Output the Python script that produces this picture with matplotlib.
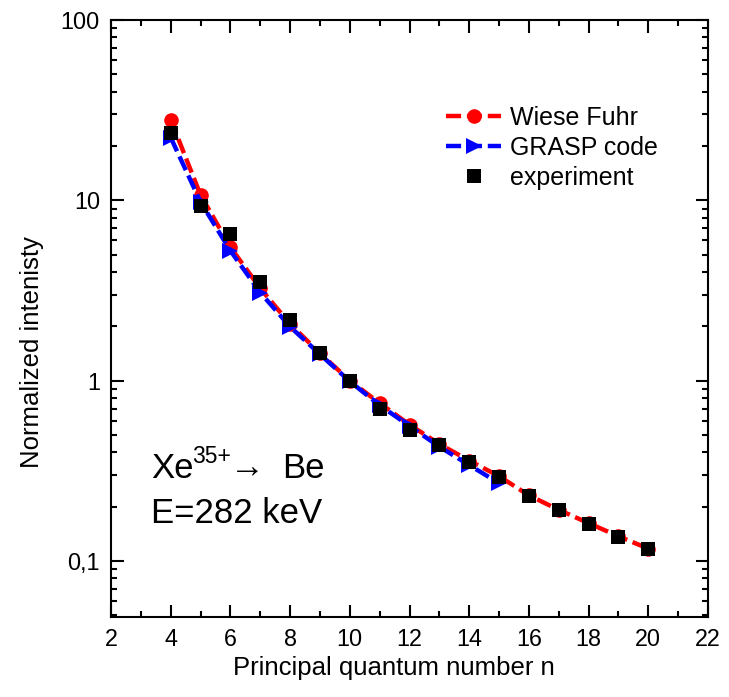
import matplotlib
matplotlib.use("Agg")
import matplotlib.pyplot as plt
from matplotlib.ticker import FixedLocator, FixedFormatter, MultipleLocator, LogLocator, NullFormatter

plt.rcParams['font.family'] = ['Liberation Sans', 'DejaVu Sans']

# data
n_wf = [4, 5, 6, 7, 8, 9, 10, 11, 12, 13, 14, 15, 16, 17, 18, 19, 20]
wiese_fuhr = [28.0, 10.7, 5.5, 3.25, 2.06, 1.42, 1.0, 0.75, 0.57, 0.445, 0.36, 0.295, 0.231, 0.192, 0.162, 0.137, 0.117]
n_grasp = [4, 5, 6, 7, 8, 9, 10, 11, 12, 13, 14, 15]
grasp = [22.3, 9.8, 5.25, 3.08, 1.99, 1.40, 0.99, 0.73, 0.56, 0.43, 0.34, 0.27]
n_exp = [4, 5, 6, 7, 8, 9, 10, 11, 12, 13, 14, 15, 16, 17, 18, 19, 20]
experiment = [23.5, 9.3, 6.5, 3.52, 2.16, 1.43, 1.0, 0.70, 0.53, 0.44, 0.355, 0.293, 0.229, 0.191, 0.161, 0.136, 0.116]

ytick_vals = [0.1, 1, 10, 100]
ytick_labels = ["0,1", "1", "10", "100"]
xtick_vals = [2, 4, 6, 8, 10, 12, 14, 16, 18, 20, 22]

fig = plt.figure(figsize=(7.29, 6.97), dpi=100)
ax = fig.add_axes([111/729, 80/697, 597/729, 597/697])

ax.plot(n_wf, wiese_fuhr, color='#ff0000', lw=3.2, dashes=(3.4, 1.3), marker='o',
        markersize=10.5, markeredgewidth=0, label='Wiese Fuhr', zorder=3)
ax.plot(n_grasp, grasp, color='#0000ff', lw=3.2, dashes=(3.4, 1.3), marker='>',
        markersize=11, markeredgewidth=0, label='GRASP code', zorder=4)
ax.plot(n_exp, experiment, linestyle='none', color='black', marker='s',
        markersize=9.5, markeredgewidth=0, label='experiment', zorder=5)

ax.set_yscale('log')
ax.set_xlim(2, 22)
ax.set_ylim(10**(-1.311), 100)

ax.xaxis.set_major_locator(FixedLocator(xtick_vals))
ax.xaxis.set_minor_locator(MultipleLocator(1))
ax.yaxis.set_major_locator(FixedLocator(ytick_vals))
ax.yaxis.set_major_formatter(FixedFormatter(ytick_labels))
ax.yaxis.set_minor_locator(LogLocator(base=10, subs=range(2, 10)))
ax.yaxis.set_minor_formatter(NullFormatter())

ax.tick_params(which='both', direction='in', top=True, right=True, width=1.5, labelsize=16.8, pad=8)
ax.tick_params(which='major', length=9)
ax.tick_params(which='minor', length=4.5)
for s in ax.spines.values():
    s.set_linewidth(1.5)

ax.set_xlabel('Principal quantum number n', fontsize=18.5, labelpad=6)
ax.xaxis.set_label_coords((394 - 111) / 597, -0.065)
ax.set_ylabel('Normalized intenisty', fontsize=18.5)
ax.yaxis.set_label_coords((44 - 111) / 597, (617 - 352) / 597)

# annotation (pixel coordinates)
ax.text(151, 697 - 478, "Xe", transform=None, fontsize=25, ha='left', va='baseline')
ax.text(192, 697 - 463, "35+", transform=None, fontsize=16.5, ha='left', va='baseline')
ax.text(230, 697 - 478, "\u2192", transform=None, fontsize=25, ha='left', va='baseline')
ax.text(282, 697 - 478, "Be", transform=None, fontsize=25, ha='left', va='baseline')
ax.text(151, 697 - 523, "E=282 keV", transform=None, fontsize=25, ha='left', va='baseline')

leg = ax.legend(loc='upper left', frameon=False, fontsize=18, handlelength=2.2, handletextpad=0.35,
                labelspacing=0.24, borderpad=0, borderaxespad=0)
leg.set_bbox_to_anchor((446/729, (697 - 106)/697), transform=fig.transFigure)

fig.savefig('out.png', dpi=100)
